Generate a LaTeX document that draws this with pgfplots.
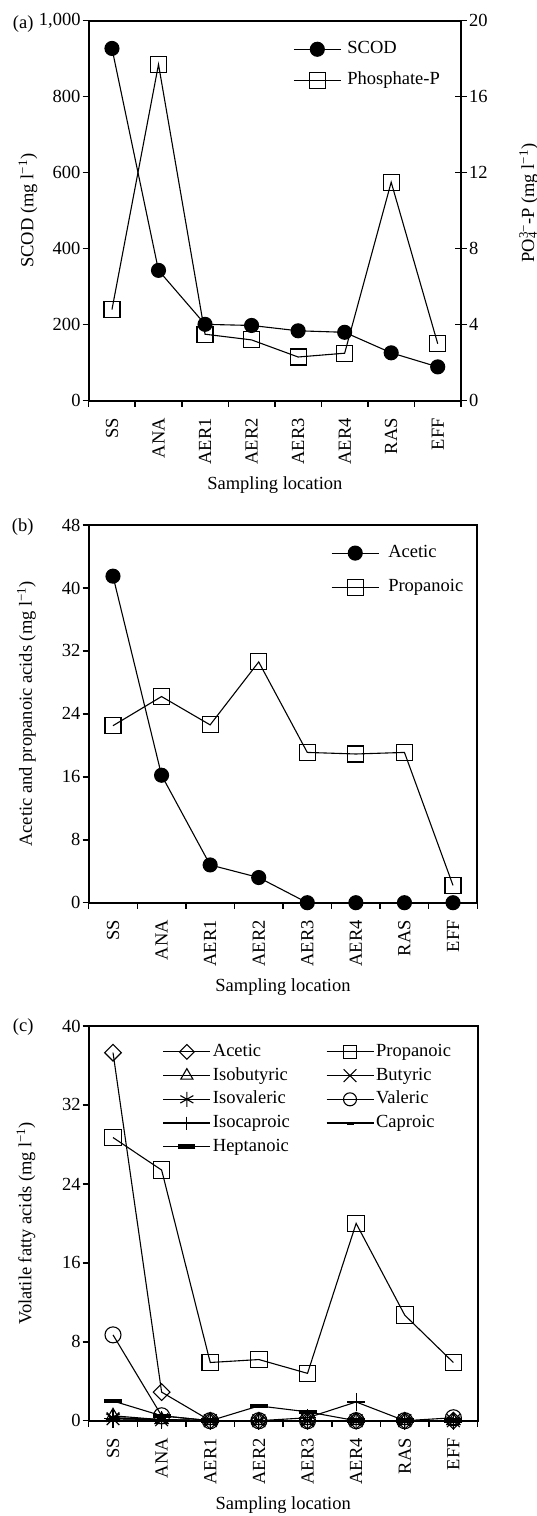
\documentclass[border=0pt]{standalone}
\usepackage{fontspec}
\setmainfont{Liberation Serif}
\usepackage{pgfplots}
\pgfplotsset{compat=1.18}
\newcommand\fs{\fontsize{18.5}{21}\selectfont}
\newcommand\mneg{\char"2212\relax}
\pgfplotsset{
  base/.style={
    scale only axis,
    xmin=-0.5, xmax=7.5,
    xtick={0,...,7},
    xticklabels={SS,ANA,AER1,AER2,AER3,AER4,RAS,EFF},
    minor xtick={-0.5,0.5,...,7.5},
    major x tick style={draw=none},
    tick align=outside,
    major tick length=6pt, minor tick length=6pt,
    xtick pos=left, ytick pos=left,
    axis line style={line width=1.8pt},
    tick style={line width=1.5pt, black},
    xticklabel style={rotate=90, anchor=east, font=\fs},
    xticklabel shift=8pt,
    yticklabel style={font=\fs, inner sep=2pt},
    label style={font=\fs},
    xlabel={Sampling location},
    xlabel style={at={(axis description cs:0.5,0)}, anchor=base, yshift=-89pt},
    every axis plot/.append style={line width=1.1pt, black},
    legend style={draw=none, fill=none, font=\fs, anchor=north west, inner sep=0pt,
      cells={anchor=west}, nodes={text height=13pt, text depth=4pt, inner sep=2pt}},
    legend image code/.code={\draw[mark repeat=2,mark phase=2,##1] plot coordinates {(0pt,0pt) (23.5pt,0pt) (47pt,0pt)};},
    clip=false,
  }
}
\begin{document}
\begin{tikzpicture}
\path[use as bounding box] (0,0) rectangle (537pt,-1516pt);

% ---------- (a) ----------
\begin{axis}[base, at={(88.7pt,-400.7pt)}, anchor=south west, width=372.3pt, height=380pt,
  ymin=0, ymax=1000, ytick={0,200,...,1000}, yticklabels={0,200,400,600,800,{1,000}},
  ylabel={SCOD (mg l\textsuperscript{\mneg 1})},
  ylabel style={at={(axis description cs:-0.163,0.5)}, anchor=center},
  legend style={at={(axis description cs:0.549,0.953)}, row sep=10pt,
    /tikz/every odd column/.append style={column sep=4pt}}]
\addplot[mark=*, mark size=7pt, mark options={fill=black}] coordinates {
 (0,927) (1,343) (2,201) (3,198) (4,184) (5,180) (6,126) (7,89)};
\addlegendentry{SCOD}
\addlegendimage{mark=square, mark size=8pt, line width=1.1pt, black}
\addlegendentry{Phosphate-P}
\end{axis}
\begin{axis}[scale only axis, at={(88.7pt,-400.7pt)}, anchor=south west, width=372.3pt, height=380pt,
  xmin=-0.5, xmax=7.5, axis x line=none, axis y line*=right,
  ymin=0, ymax=20, ytick={0,4,...,20}, yticklabels={0,4,8,12,16,20},
  ytick pos=right, tick align=center, major tick length=12pt,
  axis line style={line width=1.8pt}, tick style={line width=1.5pt, black},
  yticklabel style={font=\fs, inner sep=2pt},
  ylabel={PO\rlap{\textsubscript{4}}\textsuperscript{3\mneg}-P (mg l\textsuperscript{\mneg 1})},
  ylabel style={font=\fs, at={(axis description cs:1.182,0.52)}, anchor=center, rotate=0},
  every axis plot/.append style={line width=1.1pt, black}, clip=false]
\addplot[mark=square, mark size=8pt] coordinates {
 (0,4.8) (1,17.7) (2,3.5) (3,3.2) (4,2.3) (5,2.5) (6,11.5) (7,3.0)};
\end{axis}

% ---------- (b) ----------
\begin{axis}[base, at={(88.7pt,-902.7pt)}, anchor=south west, width=388.6pt, height=377.7pt,
  ymin=0, ymax=48, ytick={0,8,...,48}, yticklabels={0,8,16,24,32,40,48},
  ylabel={Acetic and propanoic acids (mg l\textsuperscript{\mneg 1})},
  ylabel style={at={(axis description cs:-0.16,0.5)}, anchor=center},
  legend style={at={(axis description cs:0.6235,0.954)}, row sep=13pt,
    /tikz/every odd column/.append style={column sep=7pt}}]
\addplot[mark=*, mark size=7pt, mark options={fill=black}] coordinates {
 (0,41.5) (1,16.2) (2,4.8) (3,3.2) (4,0) (5,0) (6,0) (7,0)};
\addlegendentry{Acetic}
\addplot[mark=square, mark size=8pt] coordinates {
 (0,22.5) (1,26.2) (2,22.6) (3,30.6) (4,19.1) (5,18.9) (6,19.1) (7,2.2)};
\addlegendentry{Propanoic}
\end{axis}

% ---------- (c) ----------
\begin{axis}[base, at={(88.7pt,-1420.7pt)}, anchor=south west, width=389pt, height=394.7pt,
  ymin=0, ymax=40, ytick={0,8,...,40}, yticklabels={0,8,16,24,32,40},
  ylabel={Volatile fatty acids (mg l\textsuperscript{\mneg 1})},
  ylabel style={at={(axis description cs:-0.161,0.5)}, anchor=center},
  legend columns=2,
  legend style={at={(axis description cs:0.19,0.9615)}, row sep=2.7pt,
    /tikz/every even column/.append style={column sep=34pt}}]
\addlegendimage{mark=square, mark options={rotate=45}, mark size=5.2pt, line width=1.1pt, black}
\addlegendentry{Acetic}
\addlegendimage{mark=square, mark size=6.5pt, line width=1.1pt, black}
\addlegendentry{Propanoic}
\addlegendimage{mark=triangle, mark size=7pt, line width=1.1pt, black}
\addlegendentry{Isobutyric}
\addlegendimage{mark=x, mark size=9pt, line width=1.1pt, black}
\addlegendentry{Butyric}
\addlegendimage{mark=asterisk, mark size=7.5pt, line width=1.1pt, black}
\addlegendentry{Isovaleric}
\addlegendimage{mark=o, mark size=6.5pt, line width=1.1pt, black}
\addlegendentry{Valeric}
\addlegendimage{mark=+, mark size=6.5pt, line width=1.1pt, black}
\addlegendentry{Isocaproic}
\addlegendimage{mark=-, mark size=3.5pt, mark options={line width=3pt}, line width=1.1pt, black}
\addlegendentry{Caproic}
\addlegendimage{mark=-, mark size=8.5pt, mark options={line width=4.5pt}, line width=1.1pt, black}
\addlegendentry{Heptanoic}
% data
\addplot[forget plot, mark=-, mark size=9pt, mark options={line width=4.5pt}] coordinates {
 (0,2.0) (1,0.5) (2,0) (3,1.5) (4,0.9) (5,0) (6,0) (7,0)};
\addplot[forget plot, mark=-, mark size=4.5pt, mark options={line width=3pt}] coordinates {
 (0,0.3) (1,0.1) (2,0) (3,0) (4,0) (5,0) (6,0) (7,0)};
\addplot[forget plot, mark=+, mark size=8.8pt] coordinates {
 (0,0.2) (1,0.1) (2,0) (3,0) (4,0.3) (5,1.9) (6,0) (7,0)};
\addplot[forget plot, mark=asterisk, mark size=8pt] coordinates {
 (0,0.3) (1,0.1) (2,0) (3,0) (4,0) (5,0) (6,0) (7,0)};
\addplot[forget plot, mark=x, mark size=9pt] coordinates {
 (0,0.2) (1,0.1) (2,0) (3,0) (4,0) (5,0) (6,0) (7,0)};
\addplot[forget plot, mark=triangle, mark size=7.5pt] coordinates {
 (0,0.5) (1,0.1) (2,0) (3,0) (4,0) (5,0) (6,0) (7,0)};
\addplot[forget plot, mark=o, mark size=8pt] coordinates {
 (0,8.7) (1,0.5) (2,0) (3,0) (4,0) (5,0) (6,0) (7,0.3)};
\addplot[forget plot, mark=square, mark options={rotate=45}, mark size=5.9pt] coordinates {
 (0,37.3) (1,2.9) (2,0) (3,0) (4,0) (5,0) (6,0) (7,0)};
\addplot[forget plot, mark=square, mark size=8.3pt] coordinates {
 (0,28.7) (1,25.4) (2,5.9) (3,6.2) (4,4.8) (5,20.0) (6,10.7) (7,5.9)};
\end{axis}

\node[anchor=base west, inner sep=0pt, font=\fs] at (12.7pt,-28.5pt) {(a)};
\node[anchor=base west, inner sep=0pt, font=\fs] at (11.7pt,-531.7pt) {(b)};
\node[anchor=base west, inner sep=0pt, font=\fs] at (12.7pt,-1031.7pt) {(c)};
\end{tikzpicture}
\end{document}
